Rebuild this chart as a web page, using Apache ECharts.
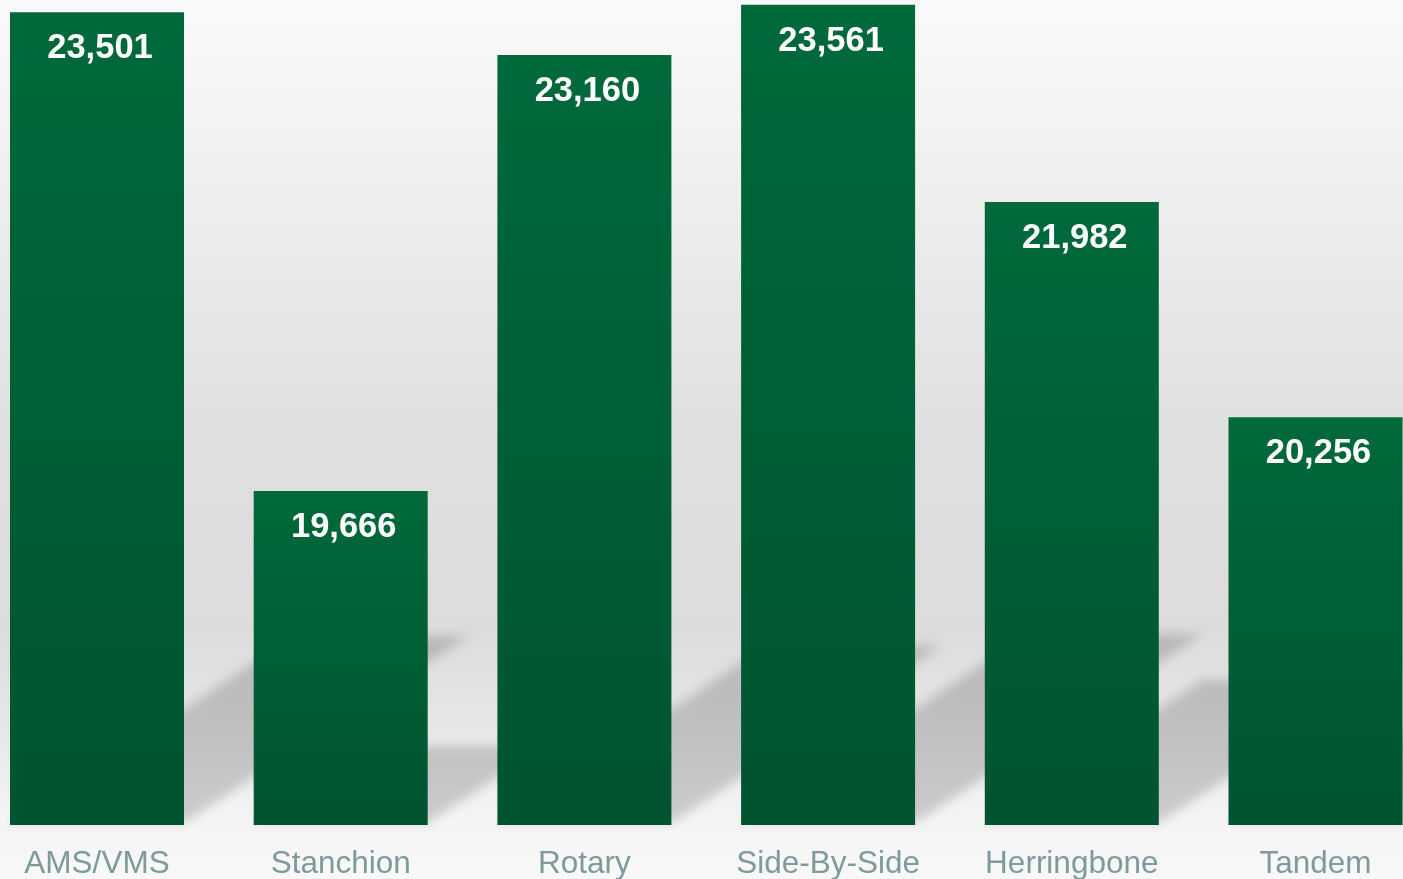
<!DOCTYPE html>
<html><head><meta charset="utf-8">
<script src="https://cdn.jsdelivr.net/npm/echarts@6/dist/echarts.min.js"></script>
<style>html,body{margin:0;padding:0;}#c{width:1403px;height:879px;}</style>
</head><body><div id="c"></div>
<script>
const categories = ['AMS/VMS', 'Stanchion', 'Rotary', 'Side-By-Side', 'Herringbone', 'Tandem'];
const values = [23501, 19666, 23160, 23561, 21982, 20256];
const yMin = 16990, yMax = 23600;

const chart = echarts.init(document.getElementById('c'));
const BAR_RATIO = 0.714;
const SHIFT = 4000;

function renderShadow(params, api) {
  const i = api.value(0);
  const top = api.coord([i, api.value(1)]);
  const base = api.coord([i, yMin]);
  const w = api.size([1, 0])[0] * BAR_RATIO;
  const h = base[1] - top[1];
  const dx = h * 0.35, dy = h * 0.23;
  const x0 = base[0] - w / 2, x1 = base[0] + w / 2, y = base[1] - 2;
  const pts = [[x0, y], [x1, y], [x1 + dx, y - dy], [x0 + dx, y - dy]].map(p => [p[0] - SHIFT, p[1]]);
  return {
    type: 'polygon',
    shape: { points: pts },
    style: {
      fill: '#000',
      shadowBlur: 11,
      shadowColor: 'rgba(0,0,0,0.17)',
      shadowOffsetX: SHIFT,
      shadowOffsetY: 0
    }
  };
}

chart.setOption({
  backgroundColor: new echarts.graphic.LinearGradient(0, 0, 0, 1, [
    { offset: 0, color: '#fafafa' },
    { offset: 0.5, color: '#dfdfdf' },
    { offset: 0.72, color: '#dcdcdc' },
    { offset: 0.84, color: '#e8e8e8' },
    { offset: 0.93, color: '#f4f4f4' },
    { offset: 1, color: '#f8f8f8' }
  ]),
  animation: false,
  grid: { left: -24.85, right: -34.35, top: 0, bottom: 54, containLabel: false, outerBoundsMode: 'none' },
  xAxis: {
    type: 'category',
    data: categories,
    axisLine: { show: false },
    axisTick: { show: false },
    axisLabel: { color: '#7d9a9c', fontSize: 31.5, fontFamily: 'Liberation Sans, Arial', margin: 23, interval: 0 }
  },
  yAxis: {
    type: 'value', min: yMin, max: yMax, show: false,
    splitLine: { show: false }
  },
  series: [
    {
      type: 'custom',
      renderItem: renderShadow,
      data: values.map((v, i) => [i, v]),
      clip: false,
      z: 1,
      silent: true
    },
    {
      type: 'bar',
      data: values,
      barWidth: (BAR_RATIO * 100) + '%',
      z: 2,
      itemStyle: {
        color: new echarts.graphic.LinearGradient(0, 0, 0, 1, [
          { offset: 0, color: '#00693a' },
          { offset: 1, color: '#00542f' }
        ])
      },
      label: {
        show: true, position: 'insideTop', distance: 19,
        offset: [3, 0],
        color: '#ffffff', fontWeight: 'bold', fontSize: 34.5,
        fontFamily: 'Liberation Sans, Arial',
        formatter: p => p.value.toLocaleString('en-US')
      }
    }
  ]
});
</script></body></html>
